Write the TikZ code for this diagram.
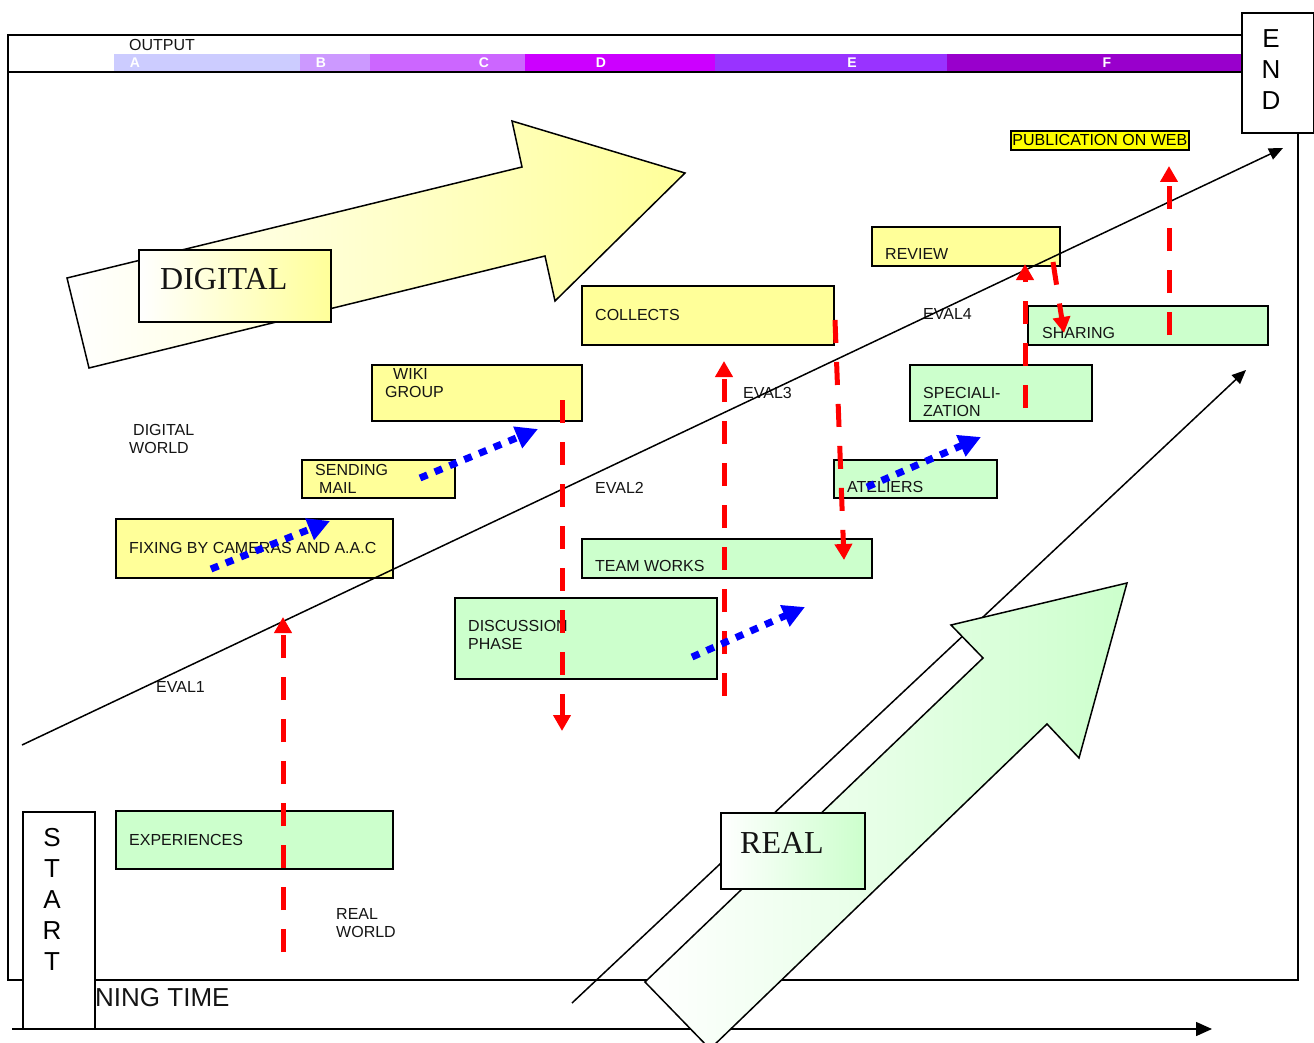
\documentclass[tikz,border=0pt]{standalone}
\usepackage{fontspec}
\setmainfont{Liberation Sans}
\newfontfamily\titleserif{Liberation Serif}
\usepackage{tikz}
\usetikzlibrary{
  arrows.meta,
  positioning
}
\definecolor{digitalcolor}{RGB}{255, 255, 153}
\definecolor{realcolor}{RGB}{204, 255, 204}
\definecolor{webcolor}{RGB}{255, 255, 0}
\definecolor{evalcolor}{RGB}{255, 0, 0}
\definecolor{flowcolor}{RGB}{0, 0, 255}
\definecolor{labelcolor}{RGB}{20, 20, 20}
\definecolor{outputA}{RGB}{204, 204, 255}
\definecolor{outputB}{RGB}{204, 153, 255}
\definecolor{outputC}{RGB}{204, 102, 255}
\definecolor{outputD}{RGB}{204, 0, 255}
\definecolor{outputE}{RGB}{153, 51, 255}
\definecolor{outputF}{RGB}{153, 0, 204}
\tikzset{
blocktext/.style={
  font=\fontsize{16}{18}\selectfont,
  text=labelcolor,
  align=left,
  inner sep=0pt,
  anchor=west
},
digitalblock/.style={
  draw,
  line width=1.8pt,
  fill=digitalcolor,
  inner sep=0pt,
  anchor=north west
},
realblock/.style={
  draw,
  line width=1.8pt,
  fill=realcolor,
  inner sep=0pt,
  anchor=north west
},
webblock/.style={
  draw,
  line width=1.8pt,
  fill=webcolor,
  inner sep=0pt,
  minimum width=178pt,
  minimum height=19pt,
  anchor=north west,
  font=\fontsize{16}{18}\selectfont
},
titleblock/.style={
  draw,
  line width=1.8pt,
  inner sep=0pt,
  anchor=north west,
  left color=white
},
titletext/.style={
  font=\titleserif\fontsize{32}{36}\selectfont,
  text=labelcolor,
  inner sep=0pt,
  anchor=west
},
letterbox/.style={
  draw,
  line width=2pt,
  fill=white,
  inner sep=0pt,
  minimum width=72pt,
  anchor=north west
},
lettertext/.style={
  font=\fontsize{26}{31}\selectfont,
  align=center,
  inner sep=0pt
},
barlabel/.style={
  font=\bfseries\fontsize{14}{16}\selectfont,
  text=white,
  inner sep=0pt
},
framed/.style={
  line width=2pt
},
bigarrow/.style={
  draw,
  line width=1.5pt,
  line join=miter,
  left color=white
},
timeline/.style={
  line width=1.5pt,
  -{Triangle[length=14pt,width=12pt]}
},
evalarrow/.style={
  draw=evalcolor,
  line width=5pt,
  dash pattern=on 23pt off 19pt,
  -{Triangle[length=16pt,width=17pt]}
},
flowarrow/.style={
  draw=flowcolor,
  line width=7pt,
  dash pattern=on 8pt off 8pt,
  -{Triangle[length=22pt,width=22pt]}
}
}

\begin{document}
\begin{tikzpicture}[x=1pt,y=-1pt]
  \useasboundingbox (0,0) rectangle (1314,1043);

  \draw[framed] (8,35) rectangle (1298,980);
  \foreach \name/\from/\to/\lx in {A/114/300/135, B/300/370/321, C/370/525/484, D/525/715/601, E/715/947/852, F/947/1241/1107} {
    \fill[output\name] (\from,54) rectangle (\to,72);
    \node[barlabel] (bar-\name) at (\lx,63) {\name};
  }
  \draw[framed] (8,72) -- (1298,72);
  \node[blocktext] (output) at (129,45) {OUTPUT};

  \draw[bigarrow, right color=digitalcolor] (89,368) -- (67,278) -- (522,167) -- (512,121) -- (685,173) -- (555,301) -- (545,256) -- cycle;
  \node[titleblock, right color=digitalcolor, minimum width=192pt, minimum height=72pt] (digital) at (138,249) {};
  \node[titletext, right=22pt of digital.west, yshift=7pt] (digital-text) {DIGITAL};

  \node[digitalblock, minimum width=252pt, minimum height=59pt] (collects) at (581,285) {};
  \node[blocktext, right=14pt of collects.west] (collects-text) {COLLECTS};
  \node[digitalblock, minimum width=210pt, minimum height=56pt] (wiki) at (371,364) {};
  \node[blocktext, right=14pt of wiki.west, yshift=9.5pt] (wiki-text) {\hspace{8pt}WIKI\\GROUP};
  \node[digitalblock, minimum width=153pt, minimum height=38pt] (mail) at (301,459) {};
  \node[blocktext, right=14pt of mail.west] (mail-text) {SENDING\\\hspace{4pt}MAIL};
  \node[digitalblock, minimum width=277pt, minimum height=59pt] (fixing) at (115,518) {};
  \node[blocktext, right=14pt of fixing.west] (fixing-text) {FIXING BY CAMERAS AND A.A.C};
  \node[digitalblock, minimum width=188pt, minimum height=39pt] (review) at (871,226) {};
  \node[blocktext, right=14pt of review.west, yshift=-7.5pt] (review-text) {REVIEW};
  \node[webblock] (web) at (1010,130) {PUBLICATION ON WEB};

  \node[realblock, minimum width=240pt, minimum height=39pt] (sharing) at (1027,305) {};
  \node[blocktext, right=15pt of sharing.west, yshift=-7.5pt] (sharing-text) {SHARING};
  \node[realblock, minimum width=182pt, minimum height=56pt] (special) at (909,364) {};
  \node[blocktext, right=14pt of special.west, yshift=-9pt] (special-text) {SPECIALI-\\ZATION};
  \node[realblock, minimum width=163pt, minimum height=38pt] (ateliers) at (833,459) {};
  \node[blocktext, right=14pt of ateliers.west, yshift=-8pt] (ateliers-text) {ATELIERS};
  \node[realblock, minimum width=290pt, minimum height=39pt] (teamworks) at (581,538) {};
  \node[blocktext, right=14pt of teamworks.west, yshift=-7.5pt] (teamworks-text) {TEAM WORKS};
  \node[realblock, minimum width=262pt, minimum height=81pt] (discussion) at (454,597) {};
  \node[blocktext, right=14pt of discussion.west, yshift=3.5pt] (discussion-text) {DISCUSSION\\PHASE};
  \node[realblock, minimum width=277pt, minimum height=58pt] (experiences) at (115,810) {};
  \node[blocktext, right=14pt of experiences.west] (experiences-text) {EXPERIENCES};

  \node[blocktext] (digital-world) at (129,439) {\hspace{4pt}DIGITAL\\WORLD};
  \node[blocktext] (real-world) at (336,923) {REAL\\WORLD};
  \node[blocktext] (eval1) at (156,687) {EVAL1};
  \node[blocktext] (eval2) at (595,488) {EVAL2};
  \node[blocktext] (eval3) at (743,393) {EVAL3};
  \node[blocktext] (eval4) at (923,314) {EVAL4};

  \coordinate (eval-start) at (22,745);
  \coordinate (eval-end) at (1283,148);
  \coordinate (real-start) at (572,1003);
  \coordinate (real-end) at (1246,370);
  \coordinate (time-start) at (12,1029);
  \coordinate (time-end) at (1212,1029);
  \draw[timeline] (eval-start) -- (eval-end);
  \draw[timeline] (real-start) -- (real-end);
  \draw[timeline, -{Triangle[length=16pt,width=14pt]}] (time-start) -- (time-end);

  \draw[bigarrow, right color=realcolor] (645,982) -- (983,658) -- (951,625) -- (1127,583) -- (1079,758) -- (1047,724) -- (710,1049) -- cycle;
  \node[titleblock, right color=realcolor, minimum width=144pt, minimum height=76pt] (real) at (720,812) {};
  \node[titletext, right=20pt of real.west, yshift=7.5pt] (real-text) {REAL};

  \node[letterbox, minimum height=120pt] (endbox) at (1241,12) {};
  \node[lettertext, below=17pt of endbox.north, xshift=-7pt] (end-text) {E\\N\\D};
  \node[letterbox, minimum height=217pt] (startbox) at (22,811) {};
  \node[lettertext, below=17pt of startbox.north, xshift=-7pt] (start-text) {S\\T\\A\\R\\T};
  \node[blocktext, font=\fontsize{26}{30}\selectfont] (time-text) at (95,998) {NING TIME};

  \coordinate (up1-from) at (283,952);
  \coordinate (up1-to) at (283,617);
  \coordinate (down1-from) at (562,400);
  \coordinate (down1-to) at (562,731);
  \coordinate (up2-from) at (724,696);
  \coordinate (up2-to) at (724,361);
  \coordinate (down2-from) at (835,320);
  \coordinate (down2-to) at (844,560);
  \coordinate (up3-from) at (1025,408);
  \coordinate (up3-to) at (1025,264);
  \coordinate (down3-from) at (1053,262);
  \coordinate (down3-to) at (1064,333);
  \coordinate (up4-from) at (1169,335);
  \coordinate (up4-to) at (1169,166);
  \draw[evalarrow] (up1-from) -- (up1-to);
  \draw[evalarrow] (down1-from) -- (down1-to);
  \draw[evalarrow] (up2-from) -- (up2-to);
  \draw[evalarrow] (down2-from) -- (down2-to);
  \draw[evalarrow] (up3-from) -- (up3-to);
  \draw[evalarrow] (down3-from) -- (down3-to);
  \draw[evalarrow] (up4-from) -- (up4-to);

  \coordinate (flow1-from) at (211,569);
  \coordinate (flow1-to) at (330,521);
  \coordinate (flow2-from) at (420,478);
  \coordinate (flow2-to) at (538,429);
  \coordinate (flow3-from) at (692,657);
  \coordinate (flow3-to) at (805,607);
  \coordinate (flow4-from) at (867,487);
  \coordinate (flow4-to) at (981,437);
  \draw[flowarrow] (flow1-from) -- (flow1-to);
  \draw[flowarrow] (flow2-from) -- (flow2-to);
  \draw[flowarrow] (flow3-from) -- (flow3-to);
  \draw[flowarrow] (flow4-from) -- (flow4-to);
\end{tikzpicture}
\end{document}
